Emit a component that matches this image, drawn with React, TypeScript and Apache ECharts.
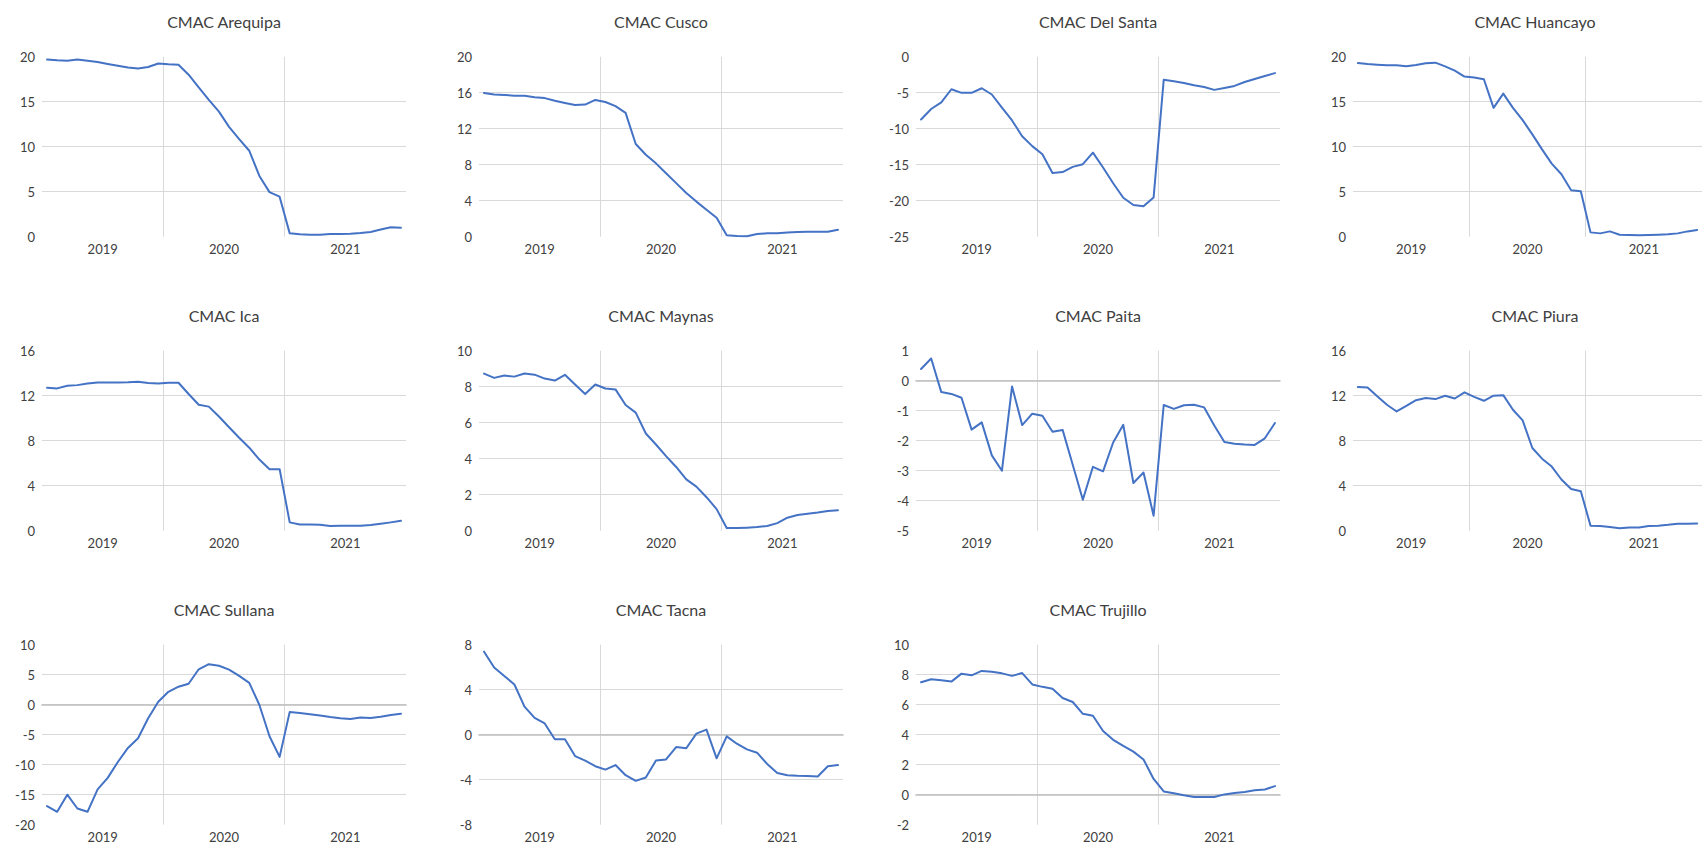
import React, { useEffect, useRef } from "react";
import * as echarts from "echarts";

const months: string[] = [
  "2019-01", "2019-02", "2019-03", "2019-04", "2019-05", "2019-06", "2019-07", "2019-08", "2019-09", "2019-10", "2019-11", "2019-12",
  "2020-01", "2020-02", "2020-03", "2020-04", "2020-05", "2020-06", "2020-07", "2020-08", "2020-09", "2020-10", "2020-11", "2020-12",
  "2021-01", "2021-02", "2021-03", "2021-04", "2021-05", "2021-06", "2021-07", "2021-08", "2021-09", "2021-10", "2021-11", "2021-12",
];
const years: string[] = ["2019", "2020", "2021"];

const titles: string[] = [
  "CMAC Arequipa", "CMAC Cusco", "CMAC Del Santa", "CMAC Huancayo",
  "CMAC Ica", "CMAC Maynas", "CMAC Paita", "CMAC Piura",
  "CMAC Sullana", "CMAC Tacna", "CMAC Trujillo",
];

const arequipa = [19.7, 19.6, 19.55, 19.7, 19.55, 19.4, 19.2, 19.0, 18.8, 18.7, 18.85, 19.25, 19.15, 19.1, 18.0, 16.6, 15.2, 13.9, 12.2, 10.85, 9.55, 6.75, 4.95, 4.45, 0.37, 0.26, 0.22, 0.22, 0.3, 0.3, 0.33, 0.4, 0.52, 0.8, 1.04, 1.0];
const cusco = [15.96, 15.8, 15.75, 15.67, 15.67, 15.5, 15.4, 15.1, 14.86, 14.64, 14.68, 15.2, 14.97, 14.5, 13.76, 10.3, 9.1, 8.15, 7.05, 5.95, 4.85, 3.9, 3.0, 2.1, 0.15, 0.07, 0.04, 0.3, 0.37, 0.37, 0.48, 0.51, 0.55, 0.55, 0.55, 0.77];
const delSanta = [-8.72, -7.26, -6.35, -4.52, -5.02, -5.02, -4.38, -5.25, -7.08, -8.86, -11.05, -12.42, -13.56, -16.16, -16.03, -15.3, -14.93, -13.33, -15.39, -17.58, -19.59, -20.6, -20.78, -19.54, -3.2, -3.42, -3.65, -3.97, -4.2, -4.61, -4.34, -4.06, -3.52, -3.1, -2.69, -2.28];
const huancayo = [19.3, 19.19, 19.11, 19.04, 19.04, 18.93, 19.08, 19.26, 19.34, 18.93, 18.45, 17.79, 17.68, 17.49, 14.32, 15.9, 14.32, 12.95, 11.37, 9.7, 8.12, 6.94, 5.17, 5.06, 0.48, 0.37, 0.59, 0.22, 0.18, 0.15, 0.18, 0.22, 0.26, 0.37, 0.59, 0.75];
const ica = [12.7, 12.65, 12.88, 12.94, 13.09, 13.18, 13.18, 13.18, 13.2, 13.24, 13.12, 13.09, 13.15, 13.15, 12.15, 11.2, 11.03, 10.15, 9.2, 8.26, 7.38, 6.32, 5.47, 5.47, 0.74, 0.56, 0.56, 0.53, 0.41, 0.44, 0.44, 0.44, 0.5, 0.62, 0.74, 0.88];
const maynas = [8.73, 8.49, 8.62, 8.56, 8.73, 8.67, 8.45, 8.34, 8.66, 8.12, 7.59, 8.12, 7.9, 7.85, 6.98, 6.56, 5.4, 4.79, 4.14, 3.54, 2.85, 2.45, 1.86, 1.2, 0.15, 0.15, 0.17, 0.2, 0.26, 0.42, 0.72, 0.87, 0.94, 1.01, 1.1, 1.14];
const paita = [0.39, 0.74, -0.38, -0.44, -0.57, -1.63, -1.39, -2.49, -3.0, -0.19, -1.48, -1.1, -1.17, -1.7, -1.64, -2.8, -3.97, -2.87, -3.02, -2.06, -1.47, -3.41, -3.06, -4.5, -0.81, -0.94, -0.82, -0.8, -0.89, -1.49, -2.04, -2.1, -2.13, -2.14, -1.92, -1.41];
const piura = [12.78, 12.72, 11.95, 11.2, 10.6, 11.1, 11.6, 11.8, 11.7, 12.0, 11.75, 12.3, 11.9, 11.55, 12.0, 12.05, 10.75, 9.8, 7.35, 6.4, 5.7, 4.55, 3.7, 3.5, 0.45, 0.42, 0.32, 0.22, 0.28, 0.28, 0.42, 0.45, 0.52, 0.62, 0.62, 0.65];
const sullana = [-16.9, -17.85, -15.0, -17.3, -17.85, -14.1, -12.2, -9.55, -7.2, -5.6, -2.25, 0.5, 2.15, 3.0, 3.5, 5.9, 6.75, 6.5, 5.85, 4.8, 3.65, -0.05, -5.25, -8.7, -1.2, -1.4, -1.6, -1.8, -2.05, -2.25, -2.4, -2.15, -2.2, -2.0, -1.7, -1.5];
const tacna = [7.38, 5.98, 5.22, 4.46, 2.5, 1.5, 1.0, -0.4, -0.4, -1.9, -2.3, -2.8, -3.1, -2.7, -3.6, -4.1, -3.8, -2.3, -2.2, -1.1, -1.2, 0.1, 0.45, -2.1, -0.15, -0.8, -1.3, -1.6, -2.6, -3.4, -3.6, -3.65, -3.68, -3.72, -2.8, -2.7];
const trujillo = [7.5, 7.7, 7.63, 7.54, 8.07, 7.96, 8.25, 8.2, 8.09, 7.92, 8.11, 7.35, 7.19, 7.06, 6.45, 6.18, 5.39, 5.26, 4.25, 3.66, 3.25, 2.87, 2.35, 1.05, 0.22, 0.09, -0.04, -0.15, -0.15, -0.15, 0.02, 0.11, 0.18, 0.29, 0.35, 0.57];

const seriesData: number[][] = [arequipa, cusco, delSanta, huancayo, ica, maynas, paita, piura, sullana, tacna, trujillo];
const yMins: number[] = [0, 0, -25, 0, 0, 0, -5, 0, -20, -8, -2];
const yMaxs: number[] = [20, 20, 0, 20, 16, 10, 1, 16, 10, 8, 10];
const ySteps: number[] = [5, 4, 5, 5, 4, 2, 1, 4, 5, 4, 2];

const FONT = "Lato, 'Open Sans', 'Liberation Sans', sans-serif";
const TEXT = "#404040";
const BLUE = "#4472C4";
const GRID = "#D9D9D9";

export default function App() {
  const ref = useRef<HTMLDivElement>(null);

  useEffect(() => {
    if (!ref.current) return;
    const chart = echarts.init(ref.current, undefined, { renderer: "svg" });

    const grids: any[] = [];
    const xAxes: any[] = [];
    const yAxes: any[] = [];
    const series: any[] = [];
    const graphics: any[] = [];

    const PW = 364;
    const PH = 180;
    titles.forEach((t, i) => {
      const c = i % 4;
      const r = Math.floor(i / 4);
      const left = 42 + 437 * c;
      const top = 56.7 + 294 * r;
      grids.push({ left, top, width: PW, height: PH, containLabel: false });
      const hasZero = yMins[i] < 0 && yMaxs[i] > 0;
      // year axis (labels + year split lines)
      xAxes.push({
        type: "category",
        gridIndex: i,
        position: "bottom",
        data: years,
        boundaryGap: true,
        axisLine: { show: false, onZero: false },
        axisTick: { show: false },
        axisLabel: { color: TEXT, fontSize: 13, fontFamily: FONT, margin: 6, interval: 0 },
        splitLine: {
          show: true,
          interval: 0,
          showMinLine: false,
          showMaxLine: false,
          lineStyle: { color: GRID, width: 1 },
        },
      });
      // month axis (data)
      xAxes.push({
        type: "category",
        gridIndex: i,
        position: "top",
        data: months,
        boundaryGap: true,
        axisLine: { show: hasZero, onZero: true, lineStyle: { color: "#BFBFBF", width: 1.6 } },
        axisTick: { show: false },
        axisLabel: { show: false },
        splitLine: { show: false },
      });
      yAxes.push({
        type: "value",
        gridIndex: i,
        min: yMins[i],
        max: yMaxs[i],
        interval: ySteps[i],
        axisLine: { show: false },
        axisTick: { show: false },
        axisLabel: { color: TEXT, fontSize: 13, fontFamily: FONT, margin: 7 },
        splitLine: {
          show: true,
          showMinLine: false,
          showMaxLine: false,
          lineStyle: { color: GRID, width: 1 },
        },
      });
      series.push({
        type: "line",
        name: t,
        xAxisIndex: 2 * i + 1,
        yAxisIndex: i,
        data: seriesData[i],
        symbol: "none",
        smooth: false,
        lineStyle: { color: BLUE, width: 2, join: "round", cap: "round" },
        z: 3,
      });
      graphics.push({
        type: "text",
        x: left + PW / 2,
        y: top - 35,
        style: {
          text: t,
          fill: TEXT,
          font: `16px ${FONT}`,
          textAlign: "center",
          textVerticalAlign: "middle",
        },
      });
    });

    chart.setOption({
      animation: false,
      backgroundColor: "#ffffff",
      grid: grids,
      xAxis: xAxes,
      yAxis: yAxes,
      series,
      graphic: graphics,
    });

    return () => {
      chart.dispose();
    };
  }, []);

  return (
    <div
      ref={ref}
      style={{ position: "absolute", left: 0, top: 0, width: "1702px", height: "848px", overflow: "hidden" }}
    />
  );
}
